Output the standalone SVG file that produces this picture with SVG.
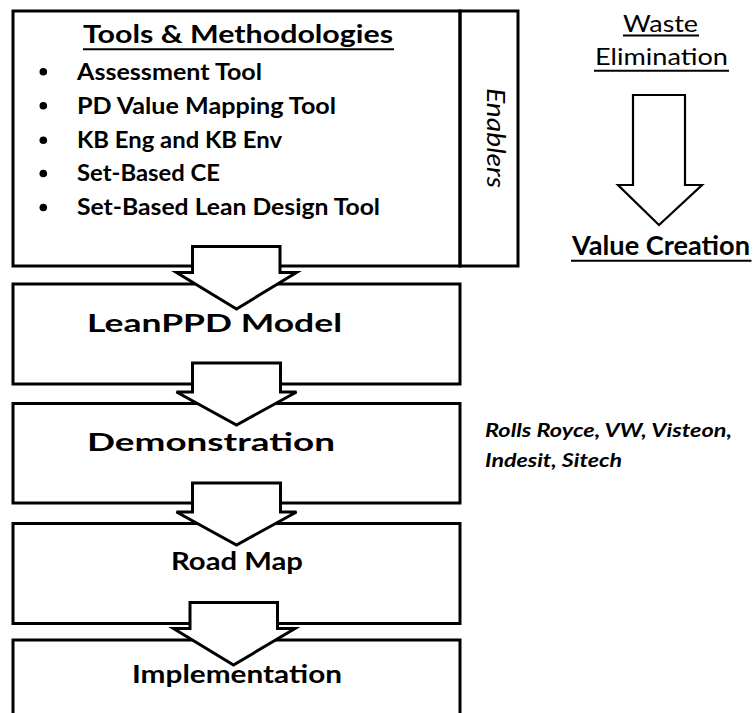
<svg xmlns="http://www.w3.org/2000/svg" width="753" height="713" viewBox="0 0 753 713">
<style>
.box{fill:none;stroke:#000;stroke-width:3}
.arr{fill:#fff;stroke:#000;stroke-width:3;stroke-linejoin:miter}
.arr2{fill:#fff;stroke:#000;stroke-width:2.2;stroke-linejoin:miter}
.ul{stroke:#000;stroke-width:2}
text{font-family:Lato,"Open Sans","Liberation Sans",sans-serif;fill:#000}
.b{font-weight:bold}
.lbl{font-weight:bold;font-size:22.5px}
.big{font-weight:bold;font-size:25.5px}
.it{font-style:italic}
</style>
<rect width="753" height="713" fill="#fff"/>

<g id="tools">
  <rect class="box" x="13" y="11" width="447" height="255"/>
  <text class="b" x="83" y="43" font-size="25.5" textLength="310" lengthAdjust="spacingAndGlyphs">Tools &amp; Methodologies</text>
  <line class="ul" x1="83" y1="49.3" x2="394" y2="49.3"/>
  <g>
    <circle cx="43.3" cy="71.8" r="3.8"/>
    <circle cx="43.3" cy="105.8" r="3.8"/>
    <circle cx="43.3" cy="140.2" r="3.8"/>
    <circle cx="43.3" cy="173.5" r="3.8"/>
    <circle cx="43.3" cy="207.5" r="3.8"/>
  </g>
  <text class="lbl" x="77" y="79.5" textLength="185" lengthAdjust="spacingAndGlyphs">Assessment Tool</text>
  <text class="lbl" x="77" y="113.5" textLength="259" lengthAdjust="spacingAndGlyphs">PD Value Mapping Tool</text>
  <text class="lbl" x="77" y="147.7" textLength="205" lengthAdjust="spacingAndGlyphs">KB Eng and KB Env</text>
  <text class="lbl" x="77" y="181.2" textLength="143" lengthAdjust="spacingAndGlyphs">Set-Based CE</text>
  <text class="lbl" x="77" y="215.2" textLength="303" lengthAdjust="spacingAndGlyphs">Set-Based Lean Design Tool</text>
</g>

<g id="enablers">
  <rect class="box" x="460" y="11" width="58" height="255"/>
  <text class="it" transform="translate(487,138) rotate(90)" text-anchor="middle" font-size="25" textLength="100" lengthAdjust="spacingAndGlyphs">Enablers</text>
</g>

<g id="leanppd">
  <rect class="box" x="13" y="284" width="447" height="100"/>
  <text class="big" x="87" y="331.7" textLength="255" lengthAdjust="spacingAndGlyphs">LeanPPD Model</text>
</g>

<g id="demonstration">
  <rect class="box" x="13" y="403.5" width="447" height="99.5"/>
  <text class="big" x="87" y="450.7" textLength="248" lengthAdjust="spacingAndGlyphs">Demonstration</text>
</g>

<g id="roadmap">
  <rect class="box" x="13" y="523.5" width="447" height="100"/>
  <text class="big" x="171" y="570" textLength="132" lengthAdjust="spacingAndGlyphs">Road Map</text>
</g>

<g id="implementation">
  <path class="box" d="M13,716 V640 H460 V716"/>
  <text class="big" x="132" y="682.7" textLength="210" lengthAdjust="spacingAndGlyphs">Implementation</text>
</g>

<g id="connectors">
  <polygon class="arr" points="192.5,246.5 280,246.5 280,272.5 296.5,272.5 236.5,309 176.5,272.5 192.5,272.5"/>
  <polygon class="arr" points="192.5,363 280.5,363 280.5,392 296.5,392 236.5,425 176.5,392 192.5,392"/>
  <polygon class="arr" points="192.5,483 280.5,483 280.5,512 296.5,512 236.5,545 176.5,512 192.5,512"/>
  <polygon class="arr" points="190,602.5 277.5,602.5 277.5,628.5 295,628.5 233.5,665 173.5,628.5 190,628.5"/>
</g>

<g id="waste">
  <text x="660.5" y="32" text-anchor="middle" font-size="23" textLength="75" lengthAdjust="spacingAndGlyphs">Waste</text>
  <line class="ul" x1="623" y1="35.5" x2="699" y2="35.5" stroke-width="1.5"/>
  <text x="661.5" y="65" text-anchor="middle" font-size="23" textLength="133" lengthAdjust="spacingAndGlyphs">Elimination</text>
  <line class="ul" x1="594" y1="70.7" x2="729" y2="70.7" stroke-width="1.5"/>
</g>

<g id="value-arrow">
  <polygon class="arr2" points="633,95 685,95 685,185 702,185 659,225 618,185 633,185"/>
</g>

<g id="value-creation">
  <text class="b" x="572" y="255" font-size="26" textLength="178" lengthAdjust="spacingAndGlyphs">Value Creation</text>
  <line class="ul" x1="571" y1="260.7" x2="751.5" y2="260.7"/>
</g>

<g id="partners">
  <text class="b it" x="485" y="437" font-size="19.5" textLength="247" lengthAdjust="spacingAndGlyphs">Rolls Royce, VW, Visteon,</text>
  <text class="b it" x="485" y="467" font-size="19.5" textLength="137" lengthAdjust="spacingAndGlyphs">Indesit, Sitech</text>
</g>
</svg>
